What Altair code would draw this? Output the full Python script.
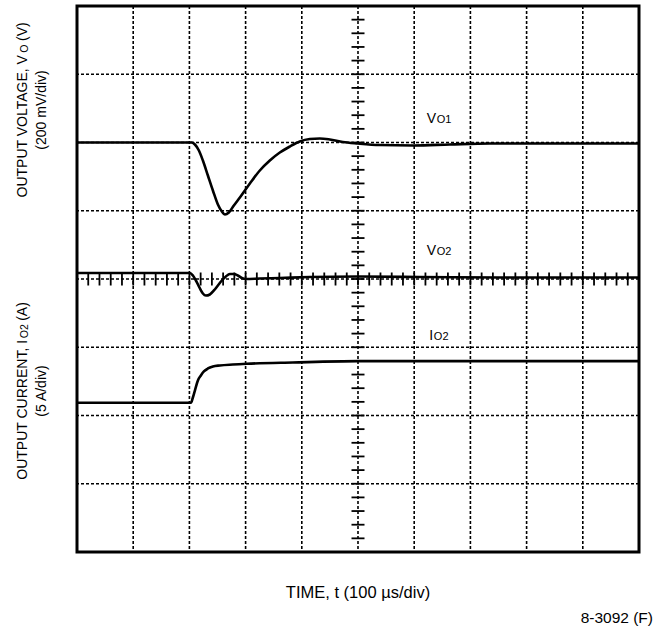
import altair as alt
import pandas as pd

FONT = "Liberation Sans"

# Oscilloscope screen: time in divisions (100 us/div), amplitude in divisions from centre
vo1_t = [0, 2.044, 2.098, 2.169, 2.240, 2.329, 2.418, 2.507, 2.578, 2.631, 2.702, 2.791, 2.898,
         3.076, 3.253, 3.431, 3.609, 3.787, 3.964, 4.142, 4.320, 4.498, 4.729, 5.0, 5.387,
         5.991, 6.631, 7.342, 8.231, 10.0]
vo1_y = [2.000, 2.000, 1.971, 1.883, 1.736, 1.516, 1.297, 1.092, 0.989, 0.945, 0.974, 1.077, 1.194,
         1.399, 1.590, 1.736, 1.853, 1.941, 2.015, 2.051, 2.059, 2.044, 2.007, 1.985, 1.963,
         1.956, 1.971, 1.985, 1.985, 1.985]

vo2_t = [0, 2.009, 2.062, 2.116, 2.187, 2.240, 2.293, 2.364, 2.436, 2.507, 2.578, 2.649, 2.720,
         2.791, 2.862, 2.933, 3.004, 3.253, 3.609, 4.142, 5.0, 6.098, 7.520, 10.0]
vo2_y = [0.088, 0.088, 0.051, -0.022, -0.139, -0.212, -0.242, -0.227, -0.168, -0.095, -0.022, 0.037, 0.073,
         0.073, 0.051, 0.015, 0.0, 0.007, 0.015, 0.029, 0.037, 0.029, 0.022, 0.022]

io2_t = [0, 2.027, 2.062, 2.098, 2.151, 2.204, 2.258, 2.329, 2.418, 2.542, 2.773, 3.022, 3.840, 5.0, 10.0]
io2_y = [-1.814, -1.814, -1.736, -1.634, -1.487, -1.414, -1.355, -1.311, -1.282, -1.267, -1.253,
         -1.242, -1.223, -1.204, -1.204]

grid_x = [0, 1, 2, 3, 4, 5, 6, 7, 8, 9, 10]
grid_y = [-4, -3, -2, -1, 0, 1, 2, 3, 4]
minor_x = [round(i * 0.2, 1) for i in range(51)]
minor_y = [round(-4 + i * 0.2, 1) for i in range(41)]

label_main = ["V", "V", "I"]
label_sub = ["O1", "O2", "O2"]
label_t = [6.222, 6.222, 6.27]
label_v = [2.28, 0.345, -0.89]

XS = alt.Scale(domain=[0, 10], nice=False, zero=False)
YS = alt.Scale(domain=[-4, 4], nice=False, zero=False)

lines = pd.concat([
    pd.DataFrame({"t": vo1_t, "v": vo1_y, "s": "VO1"}),
    pd.DataFrame({"t": vo2_t, "v": vo2_y, "s": "VO2"}),
    pd.DataFrame({"t": io2_t, "v": io2_y, "s": "IO2"}),
])

one = pd.DataFrame({"a": [0]})

vgrid = alt.Chart(pd.DataFrame({"g": grid_x})).mark_rule(
    color="black", strokeWidth=1.6, strokeDash=[3, 2]
).encode(x=alt.X("g:Q", scale=XS, axis=None))

hgrid = alt.Chart(pd.DataFrame({"g": grid_y})).mark_rule(
    color="black", strokeWidth=1.6, strokeDash=[3, 2]
).encode(y=alt.Y("g:Q", scale=YS, axis=None))

yticks = alt.Chart(pd.DataFrame({"m": minor_y})).mark_rule(
    color="black", strokeWidth=1.8, xOffset=-6.5, x2Offset=6.5
).encode(
    y=alt.Y("m:Q", scale=YS, axis=None),
    x=alt.X(datum=5, scale=XS, axis=None),
    x2=alt.X2(datum=5),
)

xticks = alt.Chart(pd.DataFrame({"m": minor_x})).mark_rule(
    color="black", strokeWidth=1.8, yOffset=-6.5, y2Offset=6.5
).encode(
    x=alt.X("m:Q", scale=XS, axis=None),
    y=alt.Y(datum=0, scale=YS, axis=None),
    y2=alt.Y2(datum=0),
)

traces = alt.Chart(lines).mark_line(
    color="black", strokeWidth=2.6, interpolate="monotone"
).encode(
    x=alt.X("t:Q", scale=XS, axis=None),
    y=alt.Y("v:Q", scale=YS, axis=None),
    detail="s:N",
)

layers = [vgrid, hgrid, yticks, xticks, traces]

sub_dx = {"V": 10, "I": 4.5}
for m, s, t, v in zip(label_main, label_sub, label_t, label_v):
    base = alt.Chart(one).encode(
        x=alt.X(datum=t, scale=XS, axis=None),
        y=alt.Y(datum=v, scale=YS, axis=None),
    )
    layers.append(base.mark_text(text=m, font=FONT, fontSize=14, align="left",
                                 baseline="alphabetic", color="black"))
    layers.append(base.mark_text(text=s, font=FONT, fontSize=11, align="left",
                                 baseline="alphabetic", color="black", dx=sub_dx[m]))


def txt(s, x, y, size, angle=0, align="left", baseline="alphabetic"):
    return alt.Chart(one).mark_text(
        text=s, font=FONT, fontSize=size, angle=angle, align=align,
        baseline=baseline, color="black"
    ).encode(x=alt.value(x), y=alt.value(y))


# Y axis titles (rotated), built of pieces to get subscripts
layers += [
    txt("OUTPUT VOLTAGE, V", -50, 191.5, 14, angle=270),
    txt("O", -49, 46.8, 10.5, angle=270),
    txt("(V)", -50, 35.0, 14, angle=270),
    txt("(200 mV/div)", -31, 104, 14, angle=270, align="center"),
    txt("OUTPUT CURRENT, I", -50, 473.7, 14, angle=270),
    txt("O2", -49, 332.2, 10.5, angle=270),
    txt("(A)", -50, 314.8, 14, angle=270),
    txt("(5 A/div)", -31, 385, 14, angle=270, align="center"),
    txt("TIME, t (100 \u00b5s/div)", 281, 592, 16.5, align="center"),
    txt("8-3092 (F)", 576, 617, 15.5, align="right"),
]

chart = alt.layer(*layers).properties(
    width=562, height=546,
    autosize=alt.AutoSizeParams(type="none"),
    padding={"left": 77, "top": 6, "right": 22, "bottom": 83},
).configure_view(stroke="black", strokeWidth=3)

chart.save("out.html", embed_options={"renderer": "svg", "actions": False})
